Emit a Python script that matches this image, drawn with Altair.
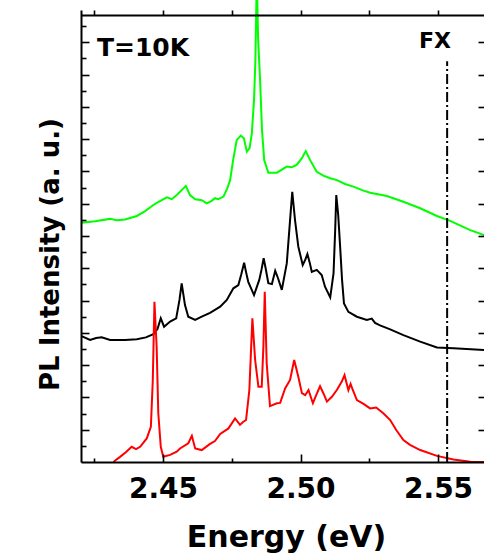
import altair as alt
import pandas as pd

# ---------------- data ----------------
green_energy = [2.4205, 2.4253, 2.4307, 2.4332, 2.4362, 2.4405, 2.4435, 2.4465, 2.4489, 2.4514,
                2.4532, 2.4550, 2.4568, 2.4583, 2.4598, 2.4617, 2.4641, 2.4659, 2.4677, 2.4689,
                2.4701, 2.4720, 2.4734, 2.4744, 2.4755, 2.4768, 2.4783, 2.4794, 2.4805, 2.4815,
                2.4823, 2.4831, 2.4836, 2.4841, 2.4846, 2.4853, 2.4860, 2.4868, 2.4883, 2.4914,
                2.4950, 2.4968, 2.4986, 2.5005, 2.5019, 2.5035, 2.5059, 2.5083, 2.5108, 2.5132,
                2.5162, 2.5192, 2.5224, 2.5253, 2.5314, 2.5374, 2.5435, 2.5496, 2.5544, 2.5617,
                2.5668]
green_intensity = [7.41, 7.46, 7.53, 7.49, 7.51, 7.62, 7.77, 7.96, 8.08, 8.20,
                   8.14, 8.27, 8.42, 8.55, 8.27, 8.14, 8.11, 8.01, 8.09, 8.17,
                   8.14, 8.22, 8.48, 8.73, 9.35, 9.97, 10.11, 10.03, 9.61, 9.72,
                   10.18, 11.21, 12.45, 15.00, 13.07, 11.83, 10.28, 9.35, 8.96, 8.96,
                   9.15, 9.13, 9.20, 9.41, 9.63, 9.35, 8.99, 8.87, 8.79, 8.73,
                   8.61, 8.53, 8.42, 8.34, 8.24, 8.06, 7.86, 7.62, 7.47, 7.18,
                   7.03]

black_energy = [2.4204, 2.4235, 2.4257, 2.4277, 2.4308, 2.4362, 2.4405, 2.4438, 2.4465, 2.4480,
                2.4492, 2.4504, 2.4526, 2.4548, 2.4560, 2.4568, 2.4580, 2.4592, 2.4617, 2.4641,
                2.4671, 2.4708, 2.4732, 2.4756, 2.4774, 2.4784, 2.4795, 2.4802, 2.4810, 2.4831,
                2.4850, 2.4858, 2.4866, 2.4873, 2.4883, 2.4896, 2.4908, 2.4918, 2.4932, 2.4950,
                2.4962, 2.4970, 2.4980, 2.4992, 2.5008, 2.5017, 2.5025, 2.5033, 2.5041, 2.5059,
                2.5077, 2.5089, 2.5108, 2.5120, 2.5126, 2.5130, 2.5137, 2.5144, 2.5151, 2.5158,
                2.5174, 2.5205, 2.5241, 2.5259, 2.5271, 2.5289, 2.5326, 2.5374, 2.5435, 2.5496,
                2.5556, 2.5668]
black_intensity = [3.90, 3.78, 3.84, 3.86, 3.78, 3.78, 3.80, 3.86, 3.96, 4.12,
                   4.45, 4.19, 4.35, 4.45, 5.02, 5.53, 4.86, 4.50, 4.40, 4.50,
                   4.62, 4.81, 5.02, 5.38, 5.48, 5.79, 6.17, 5.88, 5.58, 5.17,
                   5.64, 5.95, 6.31, 6.01, 5.54, 5.51, 5.92, 5.70, 5.33, 6.15,
                   7.49, 8.37, 7.49, 6.67, 6.10, 6.26, 6.44, 6.19, 5.89, 5.95,
                   5.79, 5.43, 5.10, 5.84, 7.18, 8.27, 7.65, 6.67, 5.64, 4.91,
                   4.65, 4.50, 4.40, 4.44, 4.31, 4.23, 4.11, 3.93, 3.73, 3.55,
                   3.52, 3.47]

red_energy = [2.4320, 2.4333, 2.4344, 2.4366, 2.4386, 2.4402, 2.4417, 2.4441, 2.4456, 2.4463,
              2.4469, 2.4477, 2.4483, 2.4492, 2.4501, 2.4526, 2.4550, 2.4562, 2.4592, 2.4605,
              2.4617, 2.4641, 2.4671, 2.4689, 2.4708, 2.4738, 2.4762, 2.4780, 2.4791, 2.4802,
              2.4814, 2.4825, 2.4835, 2.4847, 2.4859, 2.4865, 2.4870, 2.4877, 2.4889, 2.4914,
              2.4926, 2.4944, 2.4962, 2.4977, 2.4992, 2.5005, 2.5017, 2.5029, 2.5045, 2.5057,
              2.5071, 2.5083, 2.5096, 2.5114, 2.5132, 2.5150, 2.5160, 2.5174, 2.5182, 2.5190,
              2.5205, 2.5229, 2.5253, 2.5275, 2.5301, 2.5326, 2.5348, 2.5374, 2.5398, 2.5435,
              2.5496, 2.5556, 2.5617, 2.5668]
red_intensity = [0.00, 0.09, 0.16, 0.31, 0.47, 0.40, 0.47, 0.73, 1.09, 2.54,
                 4.96, 3.57, 1.51, 0.47, 0.16, 0.22, 0.32, 0.42, 0.58, 0.81,
                 0.42, 0.37, 0.56, 0.65, 0.87, 1.04, 1.35, 1.15, 1.24, 1.30,
                 2.23, 4.45, 3.16, 2.33, 2.33, 3.57, 5.27, 3.06, 1.73, 1.82,
                 1.83, 2.28, 2.54, 3.16, 2.64, 2.13, 2.07, 2.23, 1.82, 2.07,
                 2.35, 2.13, 1.87, 2.02, 2.23, 2.49, 2.69, 2.23, 2.42, 2.23,
                 1.92, 1.80, 1.66, 1.69, 1.51, 1.30, 0.99, 0.68, 0.53, 0.37,
                 0.19, 0.08, 0.01, 0.00]

series_names = ["green", "black", "red"]
series_colors = ["#00ff00", "#000000", "#ff0000"]

fx_energy = [2.5533]
fx_top = [12.41]

x_major = [2.45, 2.50, 2.55]
x_minor = [2.425, 2.475, 2.525]
x_all = [2.425, 2.45, 2.475, 2.50, 2.525, 2.55]
y_major = [float(v) for v in range(1, 14)]
y_minor = [v + 0.5 for v in range(0, 14)]

X_DOMAIN = [2.4202, 2.5667]
Y_DOMAIN = [0, 14]

# ---------------- build table ----------------
rows = []
for name, es, vs in zip(series_names,
                        [green_energy, black_energy, red_energy],
                        [green_intensity, black_intensity, red_intensity]):
    for e, v in zip(es, vs):
        rows.append({"series": name, "energy": e, "intensity": v})
df = pd.DataFrame(rows)

fx_df = pd.DataFrame({"energy": fx_energy, "y0": [0.0], "y1": fx_top})
t_df = pd.DataFrame({"energy": [2.4260], "intensity": [12.82], "label": ["T=10K"]})
fxlab_df = pd.DataFrame({"energy": [2.5489], "intensity": [13.03], "label": ["FX"]})

FONT = "DejaVu Sans"
xs = alt.Scale(domain=X_DOMAIN, nice=False, zero=False)
ys = alt.Scale(domain=Y_DOMAIN, nice=False, zero=False)


def tick_axis(orient, values, size, offset):
    return alt.Axis(orient=orient, values=values, labels=False, domain=False,
                    ticks=True, tickSize=size, tickWidth=1.6, tickColor="black",
                    offset=offset, grid=False, title="", zindex=1)


lines = alt.Chart(df).mark_line(strokeWidth=2, clip=False).encode(
    x=alt.X("energy:Q", scale=xs,
            axis=alt.Axis(orient="bottom", values=x_major, format=".2f", ticks=False,
                          tickSize=0, domain=True, domainColor="black", domainWidth=2,
                          grid=False, labelFont=FONT, labelFontSize=28,
                          labelFontWeight="bold", labelColor="black",
                          labelBaseline="alphabetic", labelPadding=35,
                          title="Energy (eV)", titleFont=FONT, titleFontSize=30,
                          titleFontWeight="bold", titleColor="black",
                          titleX=205, titleY=84, titleBaseline="alphabetic",
                          titleAlign="center", zindex=1)),
    y=alt.Y("intensity:Q", scale=ys,
            axis=alt.Axis(orient="left", domain=True, domainColor="black", domainWidth=2,
                          ticks=False, labels=False, grid=False,
                          title="PL Intensity (a. u.)", titleFont=FONT, titleFontSize=26,
                          titleFontWeight="bold", titleColor="black",
                          titleAngle=270, titleX=-23, titleY=244,
                          titleBaseline="alphabetic", titleAlign="center", zindex=1)),
    color=alt.Color("series:N",
                    scale=alt.Scale(domain=series_names, range=series_colors),
                    legend=None),
    detail="series:N",
)

fx_rule = alt.Chart(fx_df).mark_rule(color="black", strokeWidth=2,
                                     strokeDash=[10, 3, 2, 3]).encode(
    x=alt.X("energy:Q", scale=xs,
            axis=alt.Axis(orient="top", values=x_all, labels=False, domain=True,
                          domainColor="black", domainWidth=2, ticks=True, tickSize=5,
                          tickWidth=1.6, tickColor="black", offset=-5, grid=False,
                          title="", zindex=1)),
    y=alt.Y("y0:Q", scale=ys, axis=tick_axis("right", y_major, 6, -6)),
    y2="y1:Q",
)

t_text = alt.Chart(t_df).mark_text(font=FONT, fontSize=25, fontWeight="bold",
                                   align="left", baseline="middle", color="black").encode(
    x=alt.X("energy:Q", scale=xs, axis=tick_axis("bottom", x_major, 8, -8)),
    y=alt.Y("intensity:Q", scale=ys, axis=tick_axis("left", y_major, 8, -8)),
    text="label:N",
)

fx_text = alt.Chart(fxlab_df).mark_text(font=FONT, fontSize=22, fontWeight="bold",
                                        align="center", baseline="middle",
                                        color="black").encode(
    x=alt.X("energy:Q", scale=xs, axis=tick_axis("bottom", x_minor, 4, -4)),
    y=alt.Y("intensity:Q", scale=ys, axis=tick_axis("left", y_minor, 5, -5)),
    text="label:N",
)

chart = alt.layer(lines, fx_rule, t_text, fx_text).resolve_axis(
    x="independent", y="independent"
).properties(
    width=403, height=452,
    autosize=alt.AutoSizeParams(type="none"),
    padding={"left": 81, "top": 10, "right": 0, "bottom": 94},
    background="white",
).configure_view(stroke="transparent")

chart.save("out.html", embed_options={"renderer": "svg", "actions": False})
